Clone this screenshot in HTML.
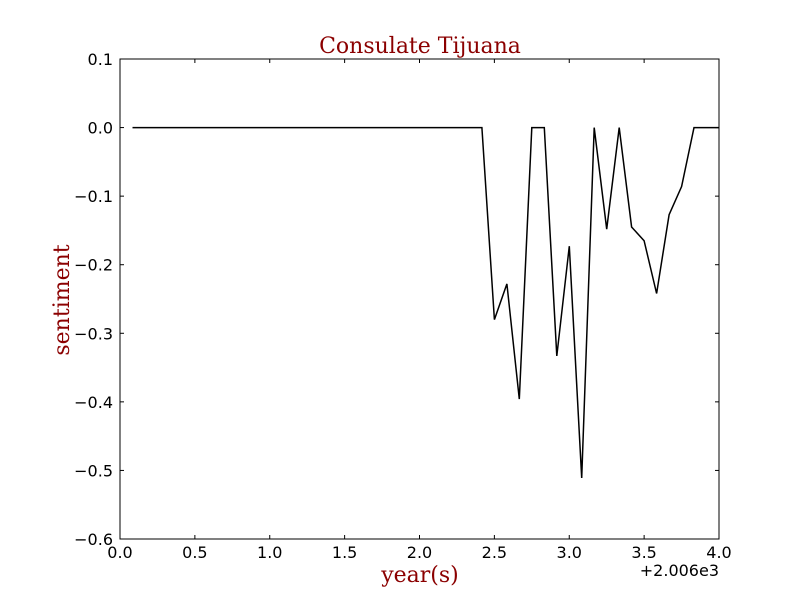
<!DOCTYPE html>
<html><head><meta charset="utf-8"><style>
body{margin:0;background:#fff}
svg text{font-family:"DejaVu Sans","Liberation Sans",sans-serif}
</style></head><body>
<svg id="chart" width="800" height="600">
<rect width="800" height="600" fill="#fff"/>
<text x="420" y="53" text-anchor="middle" font-size="22" fill="#8b0000" style="font-family:'DejaVu Serif','Liberation Serif',serif">Consulate Tijuana</text>
<text x="420" y="582" text-anchor="middle" font-size="22" fill="#8b0000" style="font-family:'DejaVu Serif','Liberation Serif',serif">year(s)</text>
<text transform="translate(69,300) rotate(-90)" text-anchor="middle" font-size="22" fill="#8b0000" style="font-family:'DejaVu Serif','Liberation Serif',serif">sentiment</text>
<text x="719" y="576" text-anchor="end" font-size="16">+2.006e3</text>
<g id="axes"></g>
<rect x="120" y="59" width="599" height="480" fill="none" stroke="#000" stroke-width="1"/>
</svg>
<script>
const xTicks=[0,0.5,1,1.5,2,2.5,3,3.5,4];
const xTickLabels=["0.0","0.5","1.0","1.5","2.0","2.5","3.0","3.5","4.0"];
const yTicks=[0.1,0,-0.1,-0.2,-0.3,-0.4,-0.5,-0.6];
const yTickLabels=["0.1","0.0","\u22120.1","\u22120.2","\u22120.3","\u22120.4","\u22120.5","\u22120.6"];
const months=[1,2,3,4,5,6,7,8,9,10,11,12,13,14,15,16,17,18,19,20,21,22,23,24,25,26,27,28,29,30,31,32,33,34,35,36,37,38,39,40,41,42,43,44,45,46,47,48];
const sentiment=[0,0,0,0,0,0,0,0,0,0,0,0,0,0,0,0,0,0,0,0,0,0,0,0,0,0,0,0,0,-0.28,-0.228,-0.396,0,0,-0.333,-0.173,-0.511,0,-0.148,0,-0.145,-0.165,-0.242,-0.127,-0.086,0,0,0];
const X=v=>120+(v/4)*599;
const Y=v=>59+(0.1-v)/0.7*480;
const g=document.getElementById('axes');
const NS='http://www.w3.org/2000/svg';
function mk(t,a){const e=document.createElementNS(NS,t);for(const k in a)e.setAttribute(k,a[k]);g.appendChild(e);return e;}
xTicks.forEach((v,i)=>{
 const x=X(v);
 const t1=mk('line',{x1:x,x2:x,y1:539,y2:535,stroke:'#000'});
 
 
 const t2=mk('line',{x1:x,x2:x,y1:59,y2:63,stroke:'#000'});
 
 
 const l=mk('text',{x:x,y:558,'text-anchor':'middle','font-size':16});
 l.textContent=xTickLabels[i];
 
 
});
yTicks.forEach((v,i)=>{
 const y=Y(v);
 const t1=mk('line',{x1:120,x2:124,y1:y,y2:y,stroke:'#000'});
 
 
 const t2=mk('line',{x1:715,x2:719,y1:y,y2:y,stroke:'#000'});
 
 
 const l=mk('text',{x:113,y:y+6,'text-anchor':'end','font-size':16});
 l.textContent=yTickLabels[i];
 
 
});
const pts=months.map((m,i)=>X(m/12).toFixed(1)+','+Y(sentiment[i]).toFixed(1)).join(' ');
const line=mk('polyline',{points:pts,fill:'none',stroke:'#000','stroke-width':1.5,'stroke-linejoin':'miter'});


</script>
</body></html>
